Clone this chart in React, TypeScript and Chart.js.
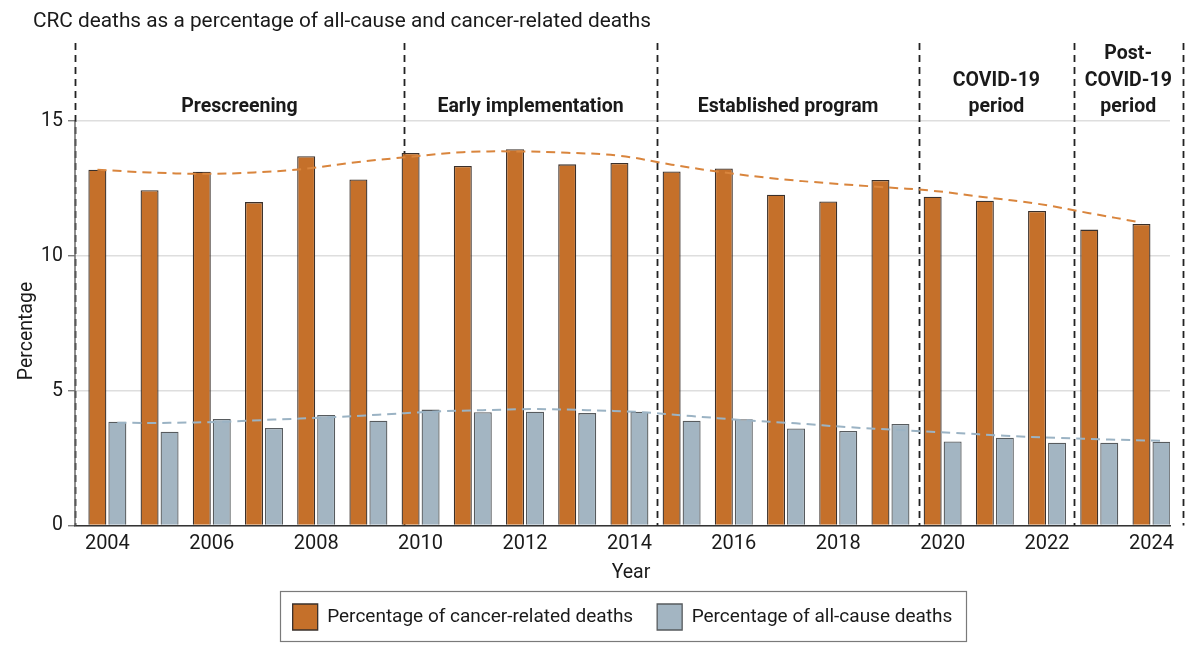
import React, { useEffect, useRef } from "react";
import { Chart, registerables } from "chart.js";

Chart.register(...registerables);

// ---------- data ----------
const years = [2004, 2005, 2006, 2007, 2008, 2009, 2010, 2011, 2012, 2013, 2014, 2015, 2016, 2017, 2018, 2019, 2020, 2021, 2022, 2023, 2024];
const cancerPct = [13.2, 12.44, 13.13, 12.0, 13.7, 12.84, 13.82, 13.34, 13.96, 13.4, 13.45, 13.14, 13.25, 12.27, 12.02, 12.82, 12.2, 12.05, 11.67, 10.98, 11.19];
const allCausePct = [3.85, 3.48, 3.95, 3.62, 4.1, 3.89, 4.3, 4.2, 4.22, 4.17, 4.22, 3.89, 3.94, 3.6, 3.51, 3.77, 3.12, 3.26, 3.07, 3.07, 3.11];
const cancerTrend = [13.2, 13.1, 13.05, 13.1, 13.24, 13.49, 13.68, 13.85, 13.88, 13.83, 13.72, 13.39, 13.1, 12.87, 12.7, 12.56, 12.42, 12.18, 11.94, 11.59, 11.24];
const allCauseTrend = [3.81, 3.81, 3.85, 3.93, 4.01, 4.11, 4.22, 4.28, 4.32, 4.28, 4.21, 4.06, 3.91, 3.79, 3.65, 3.54, 3.44, 3.33, 3.25, 3.19, 3.14];
const xTicks = [2004, 2006, 2008, 2010, 2012, 2014, 2016, 2018, 2020, 2022, 2024];
const yTicks = [0, 5, 10, 15];
const periodBounds = [2003.38, 2009.68, 2014.53, 2019.55, 2022.51, 2024.6];
const periodLabels = [["Prescreening"], ["Early implementation"], ["Established program"], ["COVID-19", "period"], ["Post-", "COVID-19", "period"]];
const seriesNames = ["Percentage of cancer-related deaths", "Percentage of all-cause deaths"];
const titleText = "CRC deaths as a percentage of all-cause and cancer-related deaths";
const xTitle = "Year";
const yTitle = "Percentage";

// ---------- style ----------
const FONT = "Roboto";
const ORANGE = "#C5702A";
const BLUE = "#A3B5C2";
const ORANGE_LINE = "#D9853D";
const BLUE_LINE = "#9BB3C4";
const TEXT = "#1a1a1a";
const BAR_OFFSET = 0.19; // trend lines pass through the centres of their bars

const overlay = {
  id: "overlay",
  beforeDatasetsDraw(chart: any) {
    const { ctx, scales } = chart;
    const x = scales.x, y = scales.y;
    ctx.save();
    // period boundaries
    ctx.strokeStyle = "#222";
    ctx.lineWidth = 1.8;
    ctx.setLineDash([7, 5]);
    const top = 43;
    periodBounds.forEach((b) => {
      const px = Math.round(x.getPixelForValue(b)) + 0.5;
      ctx.beginPath();
      ctx.moveTo(px, top);
      ctx.lineTo(px, y.getPixelForValue(0));
      ctx.stroke();
    });
    ctx.setLineDash([]);
    // y axis line (0 to 15)
    ctx.strokeStyle = "#6b6b6b";
    ctx.lineWidth = 1.5;
    const ax = x.getPixelForValue(periodBounds[0]);
    ctx.beginPath();
    ctx.moveTo(ax, y.getPixelForValue(yTicks[0]));
    ctx.lineTo(ax, y.getPixelForValue(yTicks[yTicks.length - 1]));
    ctx.stroke();
    ctx.restore();
  },
  afterDraw(chart: any) {
    const { ctx, scales } = chart;
    const x = scales.x;
    ctx.save();
    ctx.fillStyle = TEXT;
    // title
    ctx.font = `20.8px ${FONT}`;
    ctx.textAlign = "left";
    ctx.textBaseline = "alphabetic";
    ctx.fillText(titleText, 33, 27);
    // period labels
    ctx.font = `bold 19.5px ${FONT}`;
    ctx.textAlign = "center";
    periodLabels.forEach((lines, i) => {
      const cx = (x.getPixelForValue(periodBounds[i]) + x.getPixelForValue(periodBounds[i + 1])) / 2;
      const n = lines.length;
      lines.forEach((t, j) => {
        ctx.fillText(t, cx, 112 - (n - 1 - j) * 26.5);
      });
    });
    // axis titles
    ctx.font = `19.5px ${FONT}`;
    ctx.textBaseline = "middle";
    ctx.fillText(xTitle, 631, 573);
    ctx.save();
    ctx.translate(27, 331);
    ctx.rotate(-Math.PI / 2);
    ctx.fillText(yTitle, 0, 0);
    ctx.restore();
    // legend frame
    const hb = chart.legend && chart.legend.legendHitBoxes;
    if (hb && hb.length) {
      const first = hb[0];
      const last = hb[hb.length - 1];
      const l = first.left - 13;
      const r = last.left + last.width + 13;
      const t = first.top - 13;
      const b = first.top + first.height + 11;
      ctx.strokeStyle = "#7a7a7a";
      ctx.lineWidth = 1.2;
      ctx.strokeRect(Math.round(l) + 0.5, Math.round(t) + 0.5, Math.round(r - l), Math.round(b - t));
    }
    ctx.restore();
  },
};

export default function App() {
  const ref = useRef<HTMLCanvasElement>(null);
  useEffect(() => {
    document.body.style.margin = "0";
    const chart = new Chart(ref.current!, {
      type: "bar",
      data: {
        datasets: [
          {
            type: "line",
            label: "cancer trend",
            data: years.map((yr, i) => ({ x: yr - BAR_OFFSET, y: cancerTrend[i] })),
            borderColor: ORANGE_LINE,
            borderWidth: 2,
            borderDash: [9, 6],
            pointRadius: 0,
            tension: 0.4,
            fill: false,
            order: 0,
          } as any,
          {
            type: "line",
            label: "all-cause trend",
            data: years.map((yr, i) => ({ x: yr + BAR_OFFSET, y: allCauseTrend[i] })),
            borderColor: BLUE_LINE,
            borderWidth: 2,
            borderDash: [9, 6],
            pointRadius: 0,
            tension: 0.4,
            fill: false,
            order: 0,
          } as any,
          {
            type: "bar",
            label: seriesNames[0],
            data: years.map((yr, i) => ({ x: yr, y: cancerPct[i] })),
            backgroundColor: ORANGE,
            borderColor: "#3a302b",
            borderWidth: 1.3,
            categoryPercentage: 0.766,
            barPercentage: 0.9,
            order: 1,
          } as any,
          {
            type: "bar",
            label: seriesNames[1],
            data: years.map((yr, i) => ({ x: yr, y: allCausePct[i] })),
            backgroundColor: BLUE,
            borderColor: "#575b5e",
            borderWidth: 1.3,
            categoryPercentage: 0.766,
            barPercentage: 0.9,
            order: 1,
          } as any,
        ],
      },
      options: {
        responsive: false,
        animation: false,
        devicePixelRatio: 1,
        layout: { padding: { top: 40.4, right: 30, bottom: 5, left: 0 } },
        plugins: {
          title: { display: false },
          tooltip: { enabled: false },
          legend: {
            position: "bottom",
            fullSize: false,
            labels: {
              boxWidth: 25,
              boxHeight: 26,
              padding: 24,
              color: TEXT,
              font: { family: FONT, size: 19 },
              filter: (item: any) => seriesNames.includes(item.text),
            },
          },
        },
        scales: {
          x: {
            type: "linear",
            offset: false,
            min: 2003.38,
            max: 2024.355,
            afterBuildTicks: (s: any) => {
              s.ticks = xTicks.map((v) => ({ value: v }));
            },
            afterFit: (s: any) => {
              s.height = 54.5;
            },
            ticks: {
              autoSkip: false,
              maxRotation: 0,
              padding: 6.5,
              color: TEXT,
              font: { family: FONT, size: 20 },
              callback: (v: any) => String(v),
            },
            grid: { display: false, drawTicks: false },
            border: { display: true, color: "#333", width: 1.5 },
          },
          y: {
            type: "linear",
            min: 0,
            max: 18,
            afterBuildTicks: (s: any) => {
              s.ticks = yTicks.map((v) => ({ value: v }));
            },
            afterFit: (s: any) => {
              s.width = 75;
            },
            ticks: {
              padding: 5,
              color: TEXT,
              font: { family: FONT, size: 19.5 },
              callback: (v: any) => String(v),
            },
            grid: {
              color: "#dedede",
              lineWidth: 1.5,
              drawTicks: true,
              tickLength: 7,
              tickColor: "#6b6b6b",
              tickWidth: 1.2,
            },
            border: { display: false },
          },
        },
      },
      plugins: [overlay],
    });
    return () => chart.destroy();
  }, []);
  return (
    <div style={{ position: "absolute", left: 0, top: 0, width: 1200, height: 645, background: "#fff" }}>
      <canvas ref={ref} width={1200} height={645} style={{ display: "block" }} />
    </div>
  );
}
